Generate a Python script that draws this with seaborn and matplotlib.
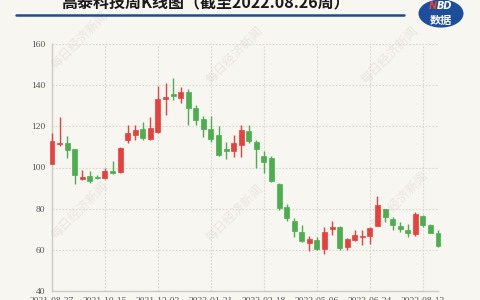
import matplotlib
matplotlib.use("Agg")
import matplotlib.pyplot as plt
import seaborn as sns
import numpy as np
from matplotlib.lines import Line2D
from matplotlib.patches import Circle

dates = ["2021-08-27", "2021-09-03", "2021-09-10", "2021-09-17", "2021-09-24", "2021-09-30",
         "2021-10-08", "2021-10-15", "2021-10-22", "2021-10-29", "2021-11-05", "2021-11-12",
         "2021-11-19", "2021-11-26", "2021-12-03", "2021-12-10", "2021-12-17", "2021-12-24",
         "2021-12-31", "2022-01-07", "2022-01-14", "2022-01-21", "2022-01-28", "2022-02-11",
         "2022-02-18", "2022-02-25", "2022-03-04", "2022-03-11", "2022-03-18", "2022-03-25",
         "2022-04-01", "2022-04-08", "2022-04-15", "2022-04-22", "2022-04-29", "2022-05-06",
         "2022-05-13", "2022-05-20", "2022-05-27", "2022-06-02", "2022-06-10", "2022-06-17",
         "2022-06-24", "2022-07-01", "2022-07-08", "2022-07-15", "2022-07-22", "2022-07-29",
         "2022-08-05", "2022-08-12", "2022-08-19", "2022-08-26"]

opens = [101.8, 111.3, 111.9, 109.0, 94.3, 95.9, 95.6, 94.8, 98.2, 97.6, 113.2, 116.0,
         118.7, 114.0, 117.3, 133.4, 135.7, 134.0, 136.8, 129.0, 123.4, 118.9, 115.6, 109.0,
         107.8, 111.1, 117.9, 112.6, 105.8, 104.5, 92.0, 81.0, 74.1, 68.9, 63.5, 64.9,
         60.3, 70.2, 71.3, 61.3, 64.9, 66.4, 66.5, 71.8, 79.8, 74.9, 71.8, 69.7,
         67.8, 76.5, 72.1, 68.4]
closes = [112.7, 112.0, 108.6, 96.4, 95.3, 93.2, 95.1, 98.4, 97.4, 109.5, 116.7, 118.4,
          114.3, 119.2, 133.1, 134.4, 134.7, 136.8, 128.7, 123.0, 118.5, 114.0, 106.3, 108.2,
          111.9, 118.0, 113.0, 109.0, 102.6, 93.6, 80.2, 75.4, 69.2, 64.5, 65.3, 60.3,
          68.9, 71.3, 60.8, 65.3, 67.3, 66.8, 70.5, 81.8, 75.9, 72.1, 70.2, 68.1,
          77.5, 72.1, 68.4, 61.9]
highs = [116.8, 124.6, 115.1, 109.2, 98.9, 98.5, 96.4, 99.7, 103.3, 110.0, 120.8, 120.8,
         122.1, 124.6, 139.6, 140.9, 143.3, 139.2, 138.0, 130.6, 124.9, 124.9, 120.0, 112.4,
         115.9, 120.8, 120.8, 113.5, 108.2, 105.6, 92.3, 82.3, 75.4, 72.1, 66.8, 66.0,
         71.3, 74.2, 71.5, 65.6, 69.4, 69.4, 70.9, 86.2, 80.0, 75.9, 73.7, 72.6,
         78.6, 77.0, 72.6, 69.4]
lows = [101.5, 110.6, 104.6, 92.0, 93.7, 92.4, 94.3, 94.6, 97.0, 97.3, 111.9, 113.5,
        113.2, 113.5, 117.0, 125.4, 133.0, 131.5, 120.6, 120.8, 114.6, 112.6, 105.4, 104.3,
        105.0, 105.3, 111.8, 99.7, 97.3, 93.0, 79.4, 74.2, 66.0, 64.0, 59.2, 60.0,
        57.9, 67.3, 60.0, 59.7, 64.3, 62.4, 62.9, 71.5, 73.7, 69.7, 68.9, 66.2,
        66.5, 71.3, 68.0, 61.3]

yticks = [40, 60, 80, 100, 120, 140, 160]
tick_dates = ["2021-08-27", "2021-10-15", "2021-12-03", "2022-01-21",
              "2022-03-18", "2022-05-06", "2022-06-24", "2022-08-12"]

title = "高泰科技周K线图（截至2022.08.26周）"
watermark = "每日经济新闻"

BG = "#f8f6f1"
UP = "#e8403d"
DOWN = "#4cae4f"

sns.set_style("white")
plt.rcParams["font.family"] = ["Noto Sans CJK SC", "DejaVu Sans"]

fig = plt.figure(figsize=(4.8, 3.0), dpi=100, facecolor=BG)
ax = fig.add_axes([52 / 480, 1 - 291 / 300, (438 - 52) / 480, (291 - 44) / 300])
ax.set_facecolor("none")
ax.set_zorder(2)

x = np.arange(len(dates))
o = np.array(opens); c = np.array(closes)
h = np.array(highs); l = np.array(lows)
colors = [UP if cc >= oo else DOWN for oo, cc in zip(o, c)]

ax.vlines(x, l, h, colors=colors, linewidth=1.0, zorder=3, clip_on=False)
bottoms = np.minimum(o, c)
heights = np.maximum(np.abs(c - o), 0.5)
ax.bar(x, heights, bottom=bottoms, width=0.66, color=colors, edgecolor=colors,
       linewidth=0.5, zorder=4, clip_on=False)

ax.set_xlim(0, len(dates) - 1)
ax.set_ylim(40, 160)
ax.set_yticks(yticks)
ax.set_yticklabels([str(v) for v in yticks], family="Liberation Serif", fontsize=6.8, color="#555555")
tick_pos = [dates.index(d) for d in tick_dates]
ax.set_xticks(tick_pos)
ax.set_xticklabels(tick_dates, family="Liberation Serif", fontsize=6.8, color="#555555")
ax.tick_params(axis="both", length=0)
ax.tick_params(axis="y", pad=5)
ax.tick_params(axis="x", pad=4)

ax.grid(True, which="major", linestyle=(0, (1.5, 1.5)), color="#d9d6d0", linewidth=0.8, zorder=0)
for s in ["top", "right"]:
    ax.spines[s].set_visible(False)
for s in ["left", "bottom"]:
    ax.spines[s].set_color("#cfcac3")
    ax.spines[s].set_linewidth(1.0)

# watermarks (behind the plot)
for (wx, wy) in [(80, 40), (235, 55), (390, 55), (80, 210), (235, 213), (400, 200)]:
    fig.text(wx / 480, 1 - wy / 300, watermark, rotation=45, fontsize=9, color="#e9e5df",
             ha="center", va="center", zorder=1)

# title
fig.text(205 / 480, 1 - 2 / 300, title, fontsize=11.5, fontweight="bold", color="#1a1a1a",
         ha="center", va="center", zorder=3)
fig.add_artist(Line2D([16 / 480, 404 / 480], [1 - 14.5 / 300, 1 - 14.5 / 300],
                      color="#1d4c97", linewidth=1.8, zorder=3))

# logo
fig.add_artist(Circle((441 / 480, 1 - 13.5 / 300), 22.5 / 480, transform=fig.transFigure,
                      facecolor="#1c4e9b", edgecolor="none", zorder=3))
fig.text(437 / 480, 1 - 6 / 300, "N", fontsize=7, fontweight="bold", style="italic",
         color="#e8403d", ha="right", va="center", family="DejaVu Sans", zorder=4)
fig.text(437 / 480, 1 - 6 / 300, "BD", fontsize=7, fontweight="bold", style="italic",
         color="white", ha="left", va="center", family="DejaVu Sans", zorder=4)
fig.text(441 / 480, 1 - 20 / 300, "数据", fontsize=8, fontweight="bold", color="white",
         ha="center", va="center", zorder=4)

fig.savefig("out.png", dpi=100, facecolor=BG)
